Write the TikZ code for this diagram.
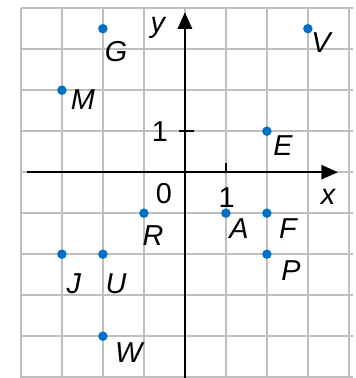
\documentclass[tikz,border=0pt]{standalone}
\usepackage{fontspec}
\setmainfont{Liberation Sans}
\usetikzlibrary{arrows.meta}
\definecolor{dotblue}{RGB}{0,114,198}
\tikzset{
  gridline/.style={gray!50, line width=1pt},
  axis/.style={line width=1.2pt, -{Triangle[length=11.5pt,width=10pt]}},
  pt/.style={circle, fill=dotblue, inner sep=0pt, minimum size=6.6pt},
  lbl/.style={font=\fontsize{20}{24}\selectfont\itshape, inner sep=0pt},
  num/.style={font=\fontsize{20}{24}\selectfont, inner sep=0pt}
}
\begin{document}
\begin{tikzpicture}
      \useasboundingbox (-4.51,-5.02) rectangle (4.17,4.2);
      \draw[gridline] (-4,-5.02) grid (4,4);
      \foreach \y in {-5,...,4}
        \draw[gridline] (4,\y) -- (4.1,\y);
      \draw[axis] (-3.86,0) -- (3.73,0);
      \draw[axis] (0,-5.02) -- (0,3.9);
      \draw[line width=1pt] (1,0) -- (1,0.22);
      \draw[line width=1pt] (-0.15,1) -- (0.22,1);
      \node[lbl] (xlab) at (3.49,-0.61) {x};
      \node[lbl] (ylab) at (-0.66,3.51) {y};
      \node[num] (zero) at (-0.51,-0.51) {0};
      \node[num] (onex) at (1.02,-0.61) {1};
      \node[num] (oney) at (-0.61,0.98) {1};
      \node[pt] (G) at (-2,3.5) {};
      \node[pt] (V) at (3,3.5) {};
      \node[pt] (M) at (-3,2) {};
      \node[pt] (E) at (2,1) {};
      \node[pt] (R) at (-1,-1) {};
      \node[pt] (A) at (1,-1) {};
      \node[pt] (F) at (2,-1) {};
      \node[pt] (J) at (-3,-2) {};
      \node[pt] (U) at (-2,-2) {};
      \node[pt] (P) at (2,-2) {};
      \node[pt] (W) at (-2,-4) {};
      \node[lbl] (Glab) at (-1.68,2.93) {G};
      \node[lbl] (Vlab) at (3.32,3.15) {V};
      \node[lbl] (Mlab) at (-2.49,1.76) {M};
      \node[lbl] (Elab) at (2.39,0.66) {E};
      \node[lbl] (Rlab) at (-0.78,-1.54) {R};
      \node[lbl] (Alab) at (1.32,-1.37) {A};
      \node[lbl] (Flab) at (2.51,-1.37) {F};
      \node[lbl] (Jlab) at (-2.71,-2.71) {J};
      \node[lbl] (Ulab) at (-1.68,-2.71) {U};
      \node[lbl] (Plab) at (2.59,-2.39) {P};
      \node[lbl] (Wlab) at (-1.37,-4.39) {W};
    \end{tikzpicture}
\end{document}
